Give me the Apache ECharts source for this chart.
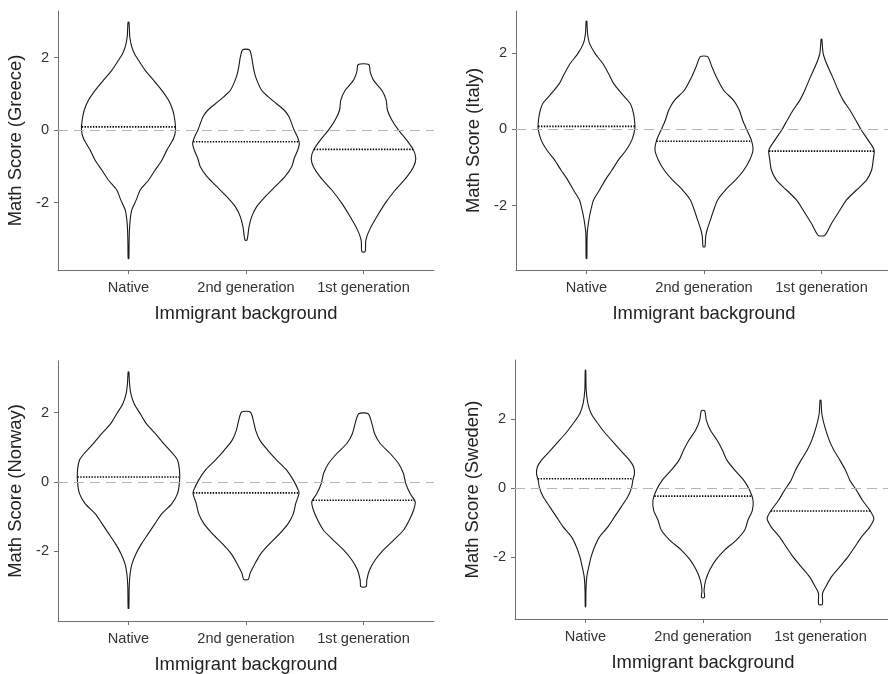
<!DOCTYPE html>
<html>
<head>
<meta charset="utf-8">
<script src="https://cdn.jsdelivr.net/npm/echarts@6/dist/echarts.min.js"></script>
<style>
  html, body { margin: 0; padding: 0; background: #fff; }
  #chart { width: 888px; height: 674px; }
</style>
</head>
<body>
<div id="chart"></div>
<script>
const categories = ["Native", "2nd generation", "1st generation"];
const countries = ["Greece", "Italy", "Norway", "Sweden"];
const yTicks = [-2, 0, 2];

// violin outlines: [score, half width in category units], top to bottom
const greeceNative = [[2.98,0.004],[2.57,0.011],[2.30,0.028],[2.11,0.051],[1.93,0.085],[1.65,0.142],[1.38,0.213],[1.10,0.284],[0.83,0.34],[0.55,0.377],[0.28,0.394],[0,0.40],[-0.23,0.383],[-0.55,0.326],[-0.83,0.284],[-1.10,0.227],[-1.38,0.17],[-1.65,0.10],[-1.93,0.065],[-2.20,0.028],[-2.48,0.014],[-2.75,0.008],[-3.12,0.005],[-3.54,0.003]];
const greeceSecond = [[2.22,0.028],[2.02,0.048],[1.74,0.062],[1.47,0.082],[1.10,0.133],[0.92,0.19],[0.73,0.26],[0.55,0.326],[0.37,0.366],[0.18,0.389],[0,0.41],[-0.18,0.437],[-0.37,0.454],[-0.55,0.44],[-0.78,0.41],[-1.01,0.389],[-1.29,0.33],[-1.56,0.247],[-1.84,0.162],[-2.11,0.091],[-2.39,0.048],[-2.66,0.026],[-3.03,0.009]];
const greeceFirst = [[1.81,0.045],[1.61,0.057],[1.38,0.085],[1.10,0.156],[0.83,0.193],[0.55,0.204],[0.28,0.241],[0,0.298],[-0.28,0.369],[-0.55,0.426],[-0.78,0.445],[-1.01,0.426],[-1.29,0.369],[-1.65,0.27],[-2.02,0.184],[-2.39,0.113],[-2.75,0.051],[-3.03,0.02],[-3.35,0.014]];

const italyNative = [[2.84,0.003],[2.52,0.009],[2.26,0.026],[1.99,0.074],[1.73,0.139],[1.47,0.187],[1.21,0.23],[0.94,0.30],[0.68,0.372],[0.42,0.40],[0.16,0.411],[0,0.411],[-0.28,0.386],[-0.54,0.338],[-0.80,0.272],[-1.07,0.216],[-1.33,0.159],[-1.59,0.111],[-1.85,0.06],[-2.12,0.037],[-2.38,0.02],[-2.73,0.006],[-3.39,0.003]];
const italySecond = [[1.91,0.031],[1.64,0.068],[1.38,0.105],[1.03,0.167],[0.77,0.25],[0.51,0.30],[0.24,0.329],[-0.02,0.366],[-0.28,0.403],[-0.54,0.417],[-0.80,0.389],[-1.07,0.338],[-1.33,0.267],[-1.59,0.182],[-1.85,0.116],[-2.12,0.082],[-2.38,0.054],[-2.64,0.026],[-2.82,0.014],[-3.08,0.008]];
const italyFirst = [[2.37,0.003],[2.0,0.014],[1.73,0.043],[1.38,0.094],[1.03,0.142],[0.77,0.184],[0.51,0.241],[0.24,0.292],[-0.02,0.34],[-0.28,0.397],[-0.54,0.448],[-0.80,0.44],[-1.07,0.426],[-1.33,0.383],[-1.59,0.298],[-1.85,0.213],[-2.12,0.156],[-2.47,0.085],[-2.78,0.028]];

const norwayNative = [[3.18,0.003],[2.84,0.009],[2.55,0.02],[2.26,0.048],[1.97,0.10],[1.69,0.15],[1.40,0.227],[1.11,0.298],[0.82,0.377],[0.63,0.417],[0.34,0.434],[0,0.434],[-0.34,0.417],[-0.63,0.369],[-0.92,0.284],[-1.20,0.227],[-1.49,0.17],[-1.78,0.113],[-2.07,0.065],[-2.36,0.031],[-2.65,0.014],[-3.03,0.006],[-3.66,0.003]];
const norwaySecond = [[2.02,0.037],[1.78,0.062],[1.49,0.082],[1.20,0.119],[0.92,0.184],[0.63,0.261],[0.34,0.346],[0.05,0.403],[-0.24,0.445],[-0.34,0.451],[-0.63,0.423],[-0.92,0.403],[-1.20,0.36],[-1.49,0.289],[-1.78,0.204],[-2.07,0.128],[-2.36,0.077],[-2.65,0.034],[-2.82,0.02]];
const norwayFirst = [[1.97,0.04],[1.69,0.071],[1.40,0.094],[1.11,0.142],[0.82,0.227],[0.53,0.298],[0.24,0.34],[-0.05,0.36],[-0.34,0.397],[-0.58,0.44],[-0.82,0.426],[-1.11,0.389],[-1.40,0.34],[-1.69,0.255],[-1.97,0.17],[-2.26,0.099],[-2.55,0.051],[-2.84,0.028],[-3.03,0.023]];

const swedenNative = [[3.41,0.002],[2.83,0.006],[2.45,0.02],[2.16,0.048],[1.87,0.105],[1.58,0.17],[1.29,0.247],[1.0,0.323],[0.81,0.374],[0.62,0.409],[0.42,0.417],[0.23,0.403],[0,0.391],[-0.25,0.36],[-0.54,0.304],[-0.83,0.247],[-1.12,0.19],[-1.41,0.119],[-1.70,0.077],[-1.98,0.048],[-2.27,0.028],[-2.56,0.011],[-2.95,0.004],[-3.43,0.002]];
const swedenSecond = [[2.24,0.014],[1.97,0.028],[1.68,0.062],[1.39,0.119],[1.10,0.165],[0.81,0.204],[0.52,0.27],[0.23,0.346],[-0.06,0.397],[-0.35,0.426],[-0.64,0.42],[-0.92,0.383],[-1.21,0.355],[-1.50,0.284],[-1.79,0.184],[-2.08,0.108],[-2.37,0.057],[-2.66,0.023],[-2.95,0.009],[-3.16,0.013]];
const swedenFirst = [[2.54,0.004],[2.16,0.011],[1.77,0.037],[1.39,0.074],[1.10,0.113],[0.81,0.165],[0.52,0.213],[0.23,0.25],[-0.06,0.306],[-0.35,0.357],[-0.64,0.42],[-0.88,0.454],[-1.12,0.42],[-1.41,0.349],[-1.70,0.292],[-1.98,0.235],[-2.27,0.165],[-2.56,0.094],[-2.85,0.045],[-3.04,0.017],[-3.36,0.016]];

// dotted lines (group medians)
const greeceMedians = [0.09, -0.32, -0.53];
const italyMedians = [0.08, -0.31, -0.57];
const norwayMedians = [0.14, -0.32, -0.53];
const swedenMedians = [0.27, -0.23, -0.66];

const profiles = [
  [greeceNative, greeceSecond, greeceFirst],
  [italyNative, italySecond, italyFirst],
  [norwayNative, norwaySecond, norwayFirst],
  [swedenNative, swedenSecond, swedenFirst],
];
const medians = [greeceMedians, italyMedians, norwayMedians, swedenMedians];

// axis ranges of each panel
const yMin = [-3.857, -3.69, -4.024, -3.784];
const yMax = [3.288, 3.11, 3.495, 3.706];

const grids = [
  { left: 58, top: 11, width: 376, height: 259 },
  { left: 516, top: 11, width: 376, height: 259 },
  { left: 58, top: 361, width: 376, height: 260 },
  { left: 515, top: 360, width: 376, height: 259 },
];

const font = "'Liberation Sans', Arial, Helvetica, sans-serif";
const axisColor = "#707070";
const textColor = "#333";

function widthAt(prof, y) {
  for (let k = 0; k < prof.length - 1; k++) {
    const a = prof[k], b = prof[k + 1];
    if (y <= a[0] && y >= b[0]) {
      const t = (a[0] - y) / (a[0] - b[0]);
      return a[1] + (b[1] - a[1]) * t;
    }
  }
  return 0;
}

function makeRender(p) {
  return function (params, api) {
    const i = params.dataIndex;
    const cx = api.value(0);
    const prof = profiles[p][i];
    const right = prof.map((d) => api.coord([cx + d[1], d[0]]));
    const left = prof.slice().reverse().map((d) => api.coord([cx - d[1], d[0]]));
    const m = medians[p][i];
    const hw = widthAt(prof, m);
    const a = api.coord([cx - hw, m]);
    const b = api.coord([cx + hw, m]);
    return {
      type: "group",
      children: [
        {
          type: "polygon",
          shape: { points: right.concat(left), smooth: 0.25 },
          style: { fill: "none", stroke: "#1a1a1a", lineWidth: 1.1 },
        },
        {
          type: "line",
          shape: { x1: a[0], y1: a[1], x2: b[0], y2: b[1] },
          style: { stroke: "#000", lineWidth: 1.6, lineDash: [1.4, 1.4] },
        },
      ],
    };
  };
}

const option = {
  animation: false,
  backgroundColor: "#fff",
  grid: grids.map((g) => ({ ...g, containLabel: false, outerBoundsMode: "none" })),
  xAxis: grids.map((g, p) => ({
    type: "value",
    gridIndex: p,
    min: 0.4,
    max: 3.6,
    name: "Immigrant background",
    nameLocation: "middle",
    nameGap: 35,
    nameTextStyle: { fontSize: 18.4, color: "#222", fontFamily: font },
    splitLine: { show: false },
    axisLine: { show: true, onZero: false, lineStyle: { color: axisColor, width: 1 } },
    axisTick: { show: true, length: 4, customValues: [1, 2, 3], lineStyle: { color: axisColor } },
    axisLabel: {
      customValues: [1, 2, 3],
      margin: 10,
      fontSize: 14.6,
      color: textColor,
      fontFamily: font,
      formatter: (v) => categories[Math.round(v) - 1],
    },
  })),
  yAxis: grids.map((g, p) => ({
    type: "value",
    gridIndex: p,
    min: yMin[p],
    max: yMax[p],
    name: "Math Score (" + countries[p] + ")",
    nameLocation: "middle",
    nameGap: 33,
    nameTextStyle: { fontSize: 18.4, color: "#222", fontFamily: font },
    splitLine: { show: false },
    axisLine: { show: true, lineStyle: { color: axisColor, width: 1 } },
    axisTick: { show: true, length: 4, customValues: yTicks, lineStyle: { color: axisColor } },
    axisLabel: {
      customValues: yTicks,
      margin: 9,
      fontSize: 14.6,
      color: textColor,
      fontFamily: font,
    },
  })),
  series: grids.map((g, p) => ({
    type: "custom",
    xAxisIndex: p,
    yAxisIndex: p,
    data: [[1], [2], [3]],
    encode: { x: 0 },
    renderItem: makeRender(p),
    markLine: {
      silent: true,
      symbol: "none",
      label: { show: false },
      lineStyle: { color: "#b5b5b5", type: [10, 6], width: 1.2 },
      data: [{ yAxis: 0 }],
    },
  })),
};

const chart = echarts.init(document.getElementById("chart"));
chart.setOption(option);
</script>
</body>
</html>
